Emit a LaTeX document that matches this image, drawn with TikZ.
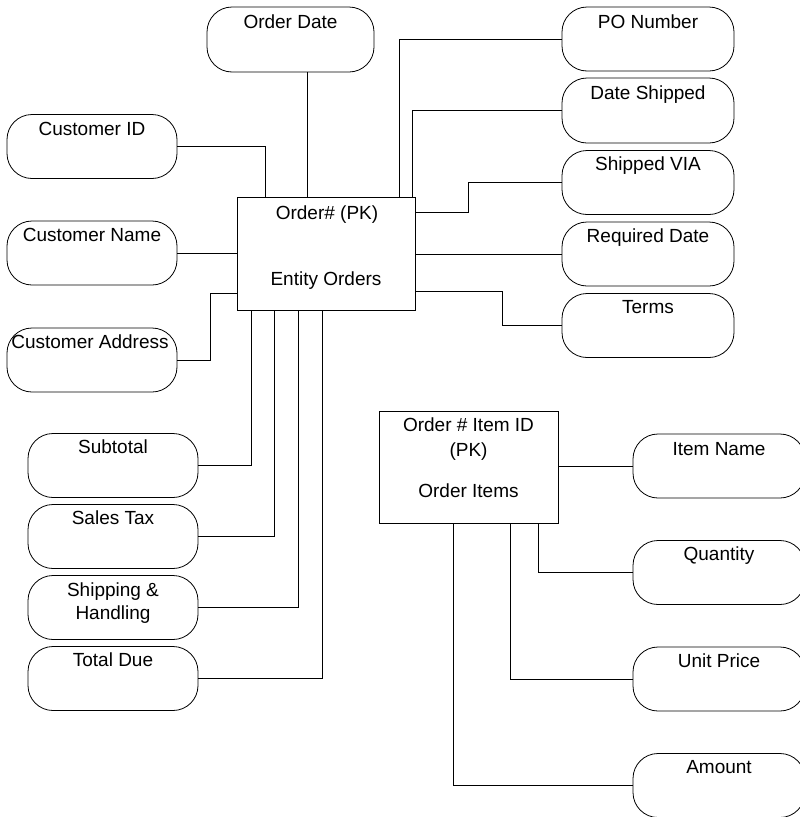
\documentclass[tikz,border=0pt]{standalone}
\usepackage{fontspec}
\setmainfont{Liberation Sans}
\begin{document}
\begin{tikzpicture}[x=1pt,y=-1pt,
  attr/.style={draw, rounded corners=25pt, minimum width=170pt, minimum height=64pt, inner sep=0pt},
  entity/.style={draw, inner sep=0pt},
  lbl/.style={anchor=base, inner sep=0pt, font=\fontsize{19}{23}\selectfont},
  conn/.style={line width=0.8pt},
  every node/.append style={line width=0.8pt}]
\clip (0,0) rectangle (800,817);
% entity boxes
\node[entity, minimum width=178pt, minimum height=113pt] (orders) at (326,253.5) {};
\node[lbl] at ([yshift=-22.5pt,xshift=1pt]orders.north) {Order\# (PK)};
\node[lbl] at ([yshift=-88.5pt]orders.north) {Entity Orders};
\node[entity, minimum width=179pt, minimum height=112pt] (items) at (468.5,467) {};
\node[lbl] at ([yshift=-20.5pt]items.north) {Order \# Item ID};
\node[lbl] at ([yshift=-46pt]items.north) {(PK)};
\node[lbl] at ([yshift=-86.5pt]items.north) {Order Items};
% attributes
\node[attr, minimum width=167pt, minimum height=65pt] (odate) at (290.5,39.5) {};
\node[lbl] at ([yshift=-22pt]odate.north) {Order Date};
\node[attr] (custid) at (92,146.5) {};
\node[lbl] at ([yshift=-21pt]custid.north) {Customer ID};
\node[attr] (custname) at (92,253) {};
\node[lbl] at ([yshift=-21pt]custname.north) {Customer Name};
\node[attr] (custaddr) at (92,360) {};
\node[lbl] at ([yshift=-21pt,xshift=-2pt]custaddr.north) {Customer Address};
\node[attr] (subtotal) at (113,465.5) {};
\node[lbl] at ([yshift=-20.5pt]subtotal.north) {Subtotal};
\node[attr] (salestax) at (113,536.5) {};
\node[lbl] at ([yshift=-20.5pt]salestax.north) {Sales Tax};
\node[attr] (shipping) at (113,607.5) {};
\node[lbl] at ([yshift=-21.5pt]shipping.north) {Shipping \&};
\node[lbl] at ([yshift=-44.5pt]shipping.north) {Handling};
\node[attr] (totaldue) at (113,678.5) {};
\node[lbl] at ([yshift=-20.5pt]totaldue.north) {Total Due};
\node[attr, minimum width=172pt] (ponum) at (648,39) {};
\node[lbl] at ([yshift=-21.5pt]ponum.north) {PO Number};
\node[attr, minimum width=172pt, minimum height=65pt] (dateship) at (648,110.5) {};
\node[lbl] at ([yshift=-21.5pt]dateship.north) {Date Shipped};
\node[attr, minimum width=172pt] (shipvia) at (648,182.5) {};
\node[lbl] at ([yshift=-20.5pt]shipvia.north) {Shipped VIA};
\node[attr, minimum width=172pt] (reqdate) at (648,254) {};
\node[lbl] at ([yshift=-21pt]reqdate.north) {Required Date};
\node[attr, minimum width=172pt] (terms) at (648,325.5) {};
\node[lbl] at ([yshift=-20pt]terms.north) {Terms};
\node[attr, minimum width=172pt] (itemname) at (719,466) {};
\node[lbl] at ([yshift=-21.5pt]itemname.north) {Item Name};
\node[attr, minimum width=172pt] (quantity) at (719,572.5) {};
\node[lbl] at ([yshift=-20.5pt]quantity.north) {Quantity};
\node[attr, minimum width=172pt] (unitprice) at (719,679) {};
\node[lbl] at ([yshift=-21pt]unitprice.north) {Unit Price};
\node[attr, minimum width=172pt] (amount) at (719,785.5) {};
\node[lbl] at ([yshift=-20.5pt]amount.north) {Amount};
% connectors: Orders
\draw[conn] ([xshift=16.5pt]odate.south) -- ([xshift=16.5pt]odate.south |- orders.north);
\draw[conn] (custid.east) -| ([xshift=29pt]orders.north west);
\draw[conn] (custname.east) -- (custname.east -| orders.west);
\draw[conn] (custaddr.east) -- ++(33,0) |- ([yshift=-39.5pt]orders.west);
\draw[conn] (subtotal.east) -| ([xshift=15pt]orders.south west);
\draw[conn] (salestax.east) -| ([xshift=38pt]orders.south west);
\draw[conn] (shipping.east) -| ([xshift=62pt]orders.south west);
\draw[conn] (totaldue.east) -| ([xshift=86pt]orders.south west);
\draw[conn] (ponum.west) -| ([xshift=-16pt]orders.north east);
\draw[conn] (dateship.west) -| ([xshift=-3pt]orders.north east);
\draw[conn] (shipvia.west) -- ++(-93,0) |- ([yshift=41.5pt]orders.east);
\draw[conn] (reqdate.west) -- (reqdate.west -| orders.east);
\draw[conn] (terms.west) -- ++(-59,0) |- ([yshift=-37.5pt]orders.east);
% connectors: Order Items
\draw[conn] (itemname.west) -- (itemname.west -| items.east);
\draw[conn] (quantity.west) -| ([xshift=-20pt]items.south east);
\draw[conn] (unitprice.west) -| ([xshift=-48pt]items.south east);
\draw[conn] (amount.west) -| ([xshift=75pt]items.south west);
\end{tikzpicture}
\end{document}
